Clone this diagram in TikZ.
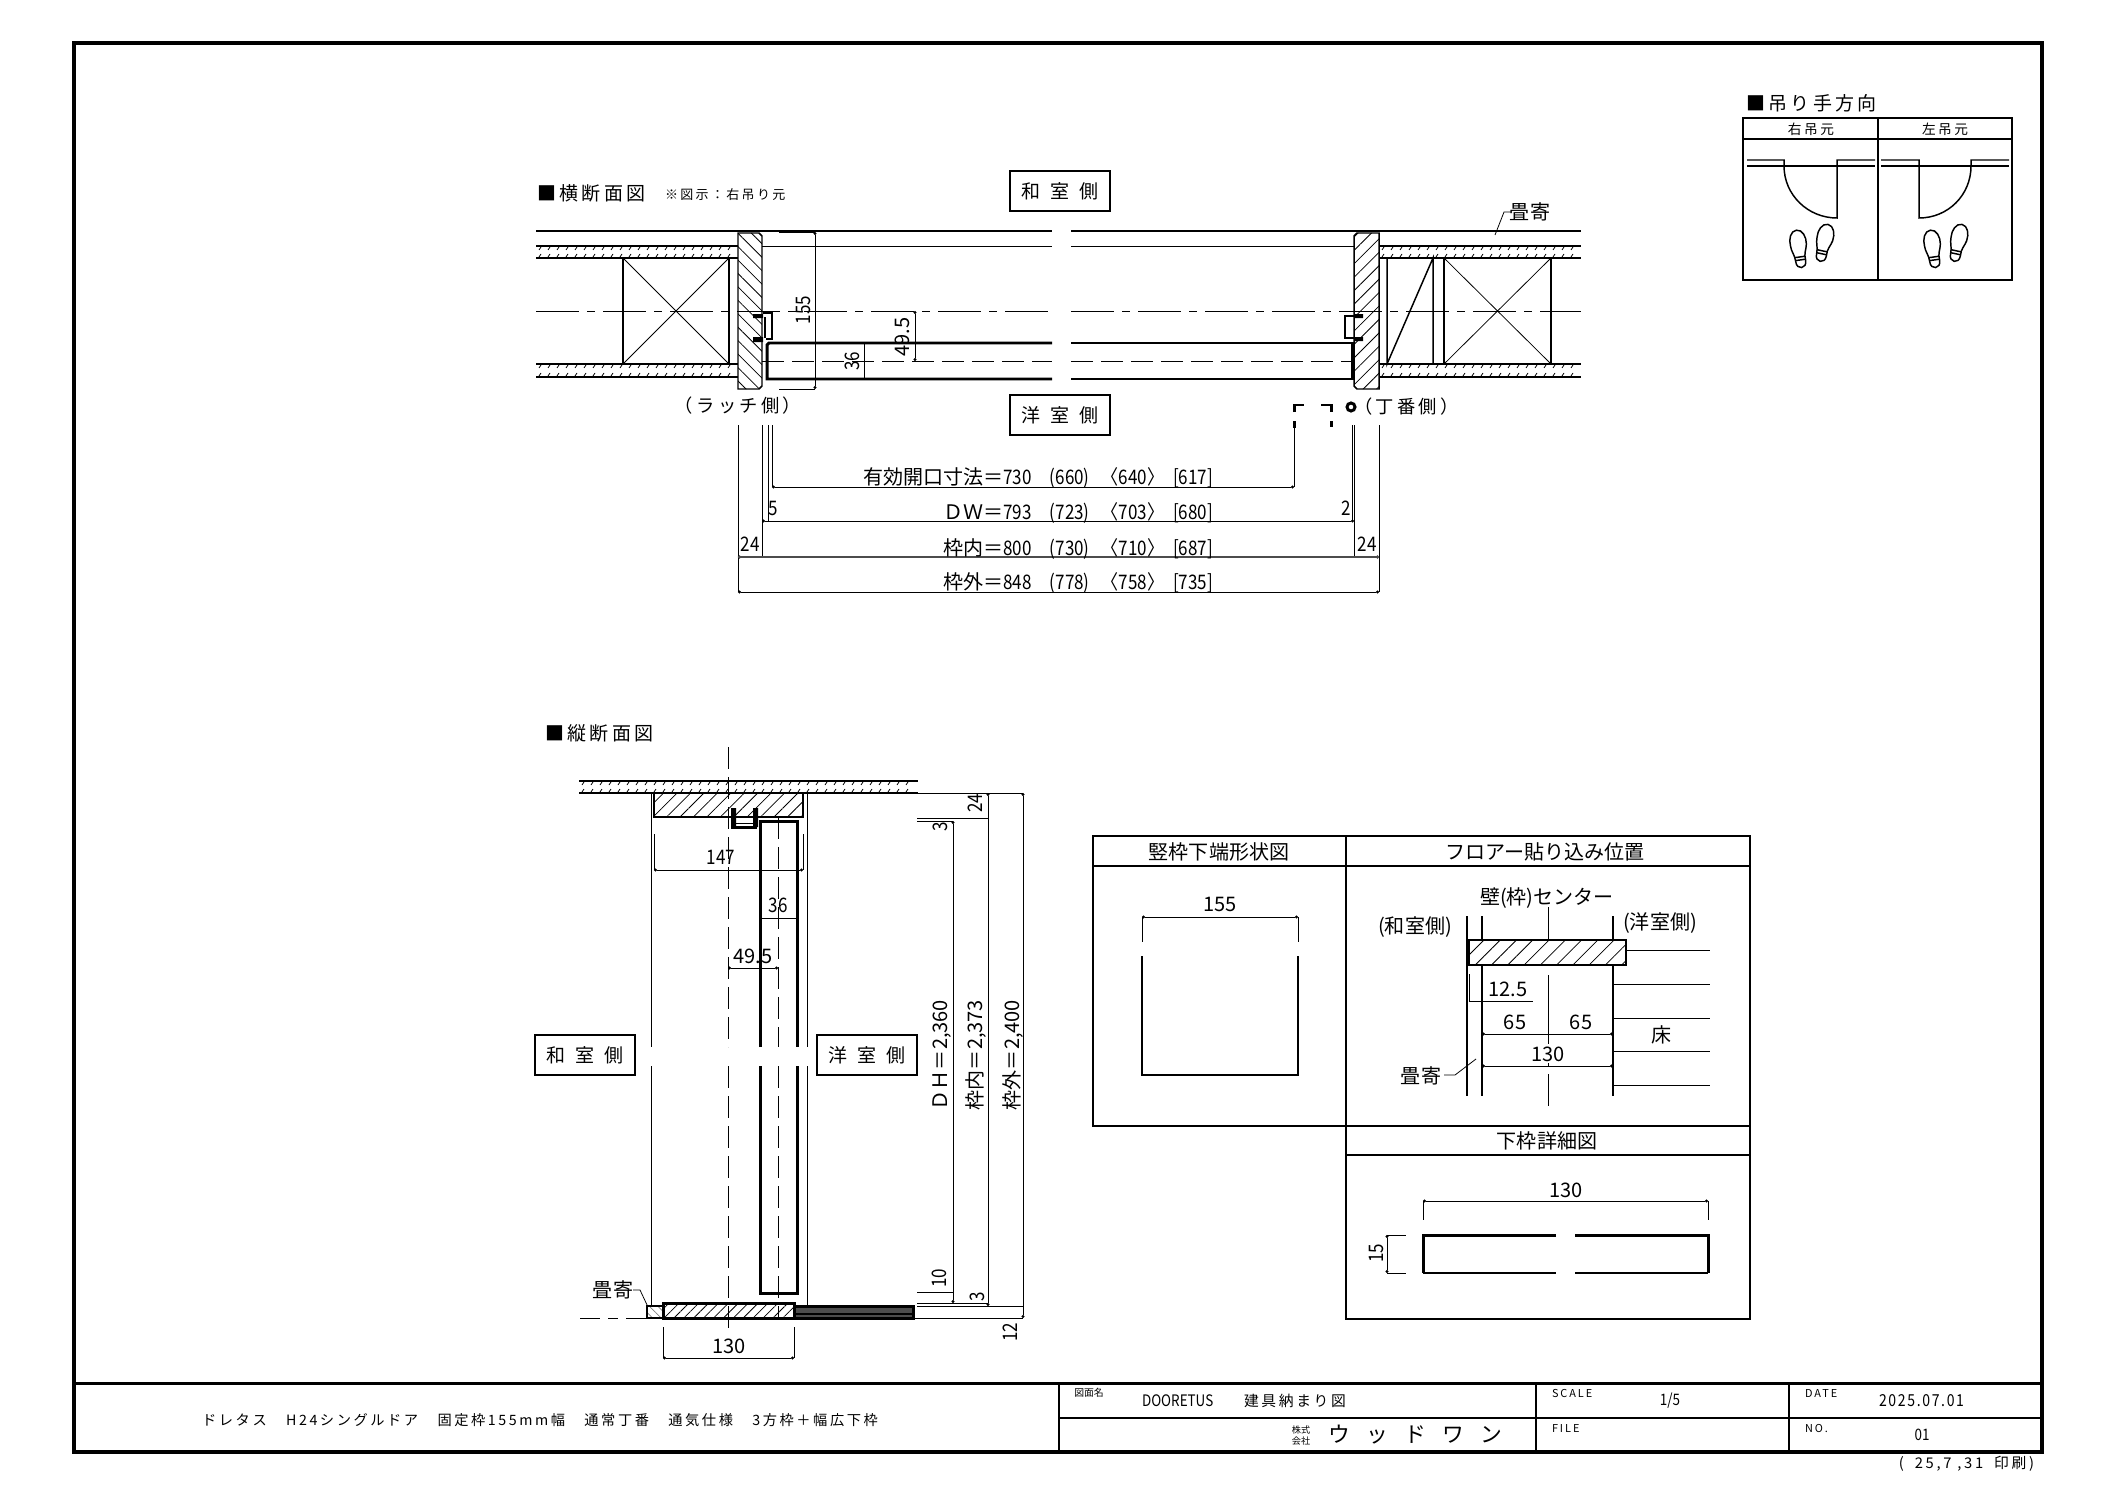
\documentclass[tikz,border=0pt]{standalone}
\usepackage{fontspec}
\usetikzlibrary{patterns.meta,arrows.meta}
\newfontfamily\cad{Noto Sans CJK JP}
\newfontfamily\cads[LetterSpace=18]{Noto Sans CJK JP}
\newfontfamily\cadw[LetterSpace=55]{Noto Sans CJK JP}
\newfontfamily\cadx[LetterSpace=75]{Noto Sans CJK JP}
\newfontfamily\cadn[FakeStretch=0.85]{Noto Sans CJK JP}
\newfontfamily\cadt[FakeStretch=0.85,LetterSpace=10]{Noto Sans CJK JP}
\newcommand{\boardh}[4]{%
  \draw[ln2] (#1,#3) -- (#2,#3);
  \draw[ln2] (#1,#4) -- (#2,#4);
  \pgfmathtruncatemacro{\tickn}{(#2-#1)/9-1}
  \foreach \ti in {0,...,\tickn}{
    \draw[ln1] ({#1+\ti*9+5},{#3+1}) -- ++(-2,3);
    \draw[ln1] ({#1+\ti*9+5},{#4-4}) -- ++(-2,3);
  }
}
\newcommand{\sizes}[5]{#1＝{\cadn #2\hspace{1.8mm}(#3)\hspace{1.2mm}〈#4〉\hspace{.9mm}[#5]}}
\tikzset{
  ln1/.style={line width=.22pt},
  ln2/.style={line width=.42pt},
  ln3/.style={line width=.85pt},
  ln4/.style={line width=1.2pt},
  chainln/.style={line width=.22pt,dash pattern=on 4.3mm off .8mm on .8mm off .8mm},
  dashln/.style={line width=.22pt,dash pattern=on 2.2mm off .8mm},
  dimln/.style={ln1,{Circle[length=.3mm]}-{Circle[length=.3mm]}},
  lab/.style={inner sep=0pt,outer sep=0pt,font=\cad\fontsize{5.7pt}{6.5pt}\selectfont},
  labd/.style={lab,font=\cadn\fontsize{5.7pt}{6.5pt}\selectfont},
  labs/.style={lab,font=\cads\fontsize{5.2pt}{6pt}\selectfont},
  labw/.style={lab,font=\cadw\fontsize{5.4pt}{6pt}\selectfont},
  labn/.style={lab,font=\cadn\fontsize{4.5pt}{5pt}\selectfont},
  tinylab/.style={lab,font=\cads\fontsize{3.1pt}{3.5pt}\selectfont},
  sidebox/.style={labw,draw,ln2,minimum width=10mm,minimum height=4mm},
  hatchl/.style={pattern={Lines[angle=-45,distance=.95mm,line width=.22pt]}},
  hatchr/.style={pattern={Lines[angle=45,distance=.95mm,line width=.22pt]}},
  hatchf/.style={pattern={Lines[angle=45,distance=.7mm,line width=.22pt]}},
  hatchw/.style={pattern={Lines[angle=45,distance=1.15mm,line width=.22pt]}},
  shoe/.pic={
    \draw[ln2] (0,-19) .. controls (6,-19) and (9,-11) .. (8,-4)
      .. controls (7,2) and (4,5) .. (5,12)
      .. controls (5.5,21) and (-5.5,21) .. (-5,12)
      .. controls (-5,5) and (-8,2) .. (-8,-4)
      .. controls (-9,-11) and (-6,-19) .. (0,-19) -- cycle;
    \draw[ln2] (-5,8) -- (5,8) (-5,11) -- (5,11);
  }
}
\begin{document}
\begin{tikzpicture}[x=.1mm,y=-.1mm]
\useasboundingbox (0,0) rectangle (2117,1497);
% sheet
\draw[ln4] (74,43) rectangle (2042,1452);
\draw[ln3] (74,1383) -- (2042,1383);
\draw[ln2] (1059,1418) -- (2042,1418);
\foreach \bx in {1059,1536,1789}{\draw[ln2] (\bx,1383) -- (\bx,1452);}
% hand table
\node[lab,anchor=west,font=\cads\fontsize{5.4pt}{6pt}\selectfont] (handtitle) at (1746,103) {■吊り手方向};
\draw[ln2] (1743,118) rectangle (2012,280);
\draw[ln2] (1743,139) -- (2012,139);
\draw[ln2] (1878,118) -- (1878,280);
\node[labs,font=\cads\fontsize{3.9pt}{4.5pt}\selectfont] (handr) at (1811,129) {右吊元};
\node[labs,font=\cads\fontsize{3.9pt}{4.5pt}\selectfont] (handl) at (1945,129) {左吊元};
\draw[ln2] (1747,160) -- (1784,160) -- (1784,166) .. controls (1784,195) and (1808,218) .. (1837,218) -- (1837,160) -- (1875,160);
\draw[ln2] (1747,166) -- (1875,166);
\draw[ln2] (1881,160) -- (1919,160) -- (1919,218) .. controls (1948,218) and (1971,195) .. (1971,166) -- (1971,160) -- (2009,160);
\draw[ln2] (1881,166) -- (2009,166);
\pic[rotate=8] at (1799,249) {shoe};
\pic[rotate=-12] at (1824,243) {shoe};
\pic[rotate=8] at (1933,249) {shoe};
\pic[rotate=-12] at (1958,243) {shoe};
% horizontal section
\node[labs,anchor=west,font=\cads\fontsize{5.4pt}{6pt}\selectfont] (htitle) at (537,193) {■横断面図};
\node[lab,anchor=west,font=\cads\fontsize{3.7pt}{4pt}\selectfont] (hnote) at (665,195) {※図示：右吊り元};
\node[sidebox] (washitsu) at (1060,191) {和室側};
\node[sidebox] (yoshitsu) at (1060,415) {洋室側};
\draw[ln2] (536,231) -- (1052,231) (1071,231) -- (1581,231);
\draw[ln1] (762,246) -- (1052,246) (1071,246) -- (1354,246);
\boardh{536}{738}{246}{258}
\boardh{536}{738}{364}{377}
\boardh{1379}{1581}{246}{258}
\boardh{1379}{1581}{364}{377}
\draw[ln2] (623,258) rectangle (729,364);
\draw[ln1] (623,258) -- (729,364) (623,364) -- (729,258);
\draw[ln2] (1444,258) rectangle (1551,364);
\draw[ln1] (1444,258) -- (1551,364) (1444,364) -- (1551,258);
\draw[ln2] (1387,258) -- (1387,364) -- (1433,258) -- (1433,364);
\draw[ln2,hatchl] (738,233) -- (759,233) -- (762,236) -- (762,386) -- (759,389) -- (738,389) -- cycle;
\draw[ln2,hatchr] (1379,233) -- (1357,233) -- (1354,236) -- (1354,386) -- (1357,389) -- (1379,389) -- cycle;
\draw[chainln] (536,311) -- (1052,311);
\draw[chainln] (1071,311) -- (1581,311);
\draw[dashln] (762,361) -- (1052,361);
\draw[dashln] (1071,361) -- (1352,361);
% door and strikes
\draw[ln3] (1052,343) -- (769,343) -- (767,345) -- (767,379) -- (1052,379);
\draw[ln3] (1071,343) -- (1352,343) -- (1352,379) -- (1071,379);
\draw[ln2] (763,313) -- (772,313) -- (772,339) -- (766,339);
\draw[ln2] (765,317) -- (765,338);
\fill (753,314) rectangle (763,318) (753,337) rectangle (763,342);
\draw[ln2] (1354,316) -- (1345,316) -- (1345,338) -- (1354,338);
\fill (1354,314) rectangle (1363,318) (1354,337) rectangle (1363,341);
% dimensions in the door
\draw[dimln] (815,232) -- (815,389);
\draw[ln1] (779,232) -- (815,232) (779,389) -- (815,389);
\node[labd,rotate=90] (dimfr) at (803,310) {155};
\draw[ln1] (864,343) -- (864,379);
\node[labd,rotate=90] (dimdt) at (852,361) {36};
\draw[dimln] (915,311) -- (915,361);
\node[lab,rotate=90] (dimdc) at (902,337) {49.5};
\node[labs] (latch) at (738,406) {（ラッチ側）};
\node[labs,anchor=west] (hinge) at (1354,407) {（丁番側）};
\node[lab] (yosea) at (1530,212) {畳寄};
\draw[ln1] (1495,235) -- (1504,212) -- (1512,212);
% hinge side marks
\draw[ln3] (1294,412) -- (1294,405) -- (1304,405);
\draw[ln3] (1321,405) -- (1331,405) -- (1331,412);
\draw[ln3] (1351,407) circle (4);
\draw[ln3] (1294,421) -- (1294,428) (1331,421) -- (1331,427);
% width dimensions
\draw[ln1] (738,425) -- (738,592) (762,425) -- (762,557) (768,425) -- (768,521) (772,425) -- (772,487);
\draw[ln1] (1294,425) -- (1294,487) (1352,425) -- (1352,521) (1354,425) -- (1354,557) (1379,425) -- (1379,592);
\draw[dimln] (772,487) -- (1294,487);
\draw[dimln] (762,521) -- (1354,521);
\draw[dimln,ln2,black!70] (738,557) -- (1379,557);
\draw[dimln] (738,592) -- (1379,592);
\node[lab,anchor=east] (dimopen) at (1213,478) {\sizes{有効開口寸法}{730}{660}{640}{617}};
\node[lab,anchor=east] (dimdw) at (1213,513) {\sizes{ＤＷ}{793}{723}{703}{680}};
\node[lab,anchor=east] (diminner) at (1213,549) {\sizes{枠内}{800}{730}{710}{687}};
\node[lab,anchor=east] (dimouter) at (1213,583) {\sizes{枠外}{848}{778}{758}{735}};
\node[labd] (dimfive) at (773,508) {5};
\node[labd] (dimtwo) at (1346,508) {2};
\node[labd] (dimla) at (750,544) {24};
\node[labd] (dimlb) at (1367,544) {24};
% vertical section
\node[labs,anchor=west,font=\cads\fontsize{5.4pt}{6pt}\selectfont] (vtitle) at (545,733) {■縦断面図};
\boardh{579}{918}{781}{793}
\draw[ln2,hatchr] (654,793) rectangle (803,817);
\draw[ln1] (651,793) -- (651,1047) (651,1066) -- (651,1306);
\draw[ln1] (807,793) -- (807,1047) (807,1066) -- (807,1306);
\draw[dashln] (728,747) -- (728,1047);
\draw[dashln] (728,1066) -- (728,1328);
\draw[dashln] (778,817) -- (778,1047);
\draw[dashln] (778,1066) -- (778,1318);
\fill (731,808) rectangle (736,827) (753,808) rectangle (758,827);
\draw[ln3] (731,827) -- (757,827);
\draw[ln1] (736,823) -- (753,823);
\draw[ln3] (760,1047) -- (760,821) -- (797,821) -- (797,1047);
\draw[ln3] (760,1066) -- (760,1293) -- (797,1293) -- (797,1066);
\draw[dimln] (654,870) -- (803,870);
\draw[ln1] (654,834) -- (654,870) (803,834) -- (803,870);
\node[labd] (dimhead) at (721,857) {147};
\draw[ln1] (760,918) -- (797,918);
\node[labd] (dimdoor) at (778,905) {36};
\draw[dimln] (728,968) -- (778,968);
\node[lab] (dimcen) at (753,956) {49.5};
\node[sidebox] (washitsub) at (585,1055) {和室側};
\node[sidebox] (yoshitsub) at (867,1055) {洋室側};
% height dimensions
\draw[ln1] (918,793) -- (1023,793) (917,818) -- (988,818) (917,821) -- (953,821);
\draw[ln1] (917,1292) -- (953,1292) (917,1303) -- (988,1303) (917,1306) -- (1023,1306) (913,1318) -- (1023,1318);
\draw[dimln] (953,821) -- (953,1303);
\draw[dimln] (988,793) -- (988,1306);
\draw[dimln] (1023,793) -- (1023,1318);
\node[labd,rotate=90] (dimhtop) at (975,803) {24};
\node[labd,rotate=90] (dimhgap) at (940,827) {3};
\node[labd,rotate=90] (dimhlow) at (939,1278) {10};
\node[labd,rotate=90] (dimhsill) at (977,1297) {3};
\node[labd,rotate=90] (dimhbot) at (1010,1332) {12};
\node[lab,rotate=90] (dimdh) at (942,1055) {ＤＨ＝2,360};
\node[lab,rotate=90] (dimin) at (976,1055) {枠内＝2,373};
\node[lab,rotate=90] (dimout) at (1013,1055) {枠外＝2,400};
% sill
\draw[ln3,hatchf] (663,1303) rectangle (794,1318);
\draw[ln2,pattern color=gray,pattern={Lines[angle=-45,distance=.6mm,line width=.2pt]}] (647,1306) rectangle (663,1318);
\draw[ln3,fill=black!70] (794,1306) rectangle (913,1318);
\draw[ln2] (794,1314) -- (913,1314);
\draw[ln1,dash pattern=on 2mm off .8mm on 1mm off .8mm] (580,1318) -- (647,1318);
\node[lab] (yoseb) at (613,1290) {畳寄};
\draw[ln1] (633,1290) -- (640,1290) -- (648,1307);
\draw[dimln] (663,1358) -- (794,1358);
\draw[ln1] (663,1327) -- (663,1358) (794,1327) -- (794,1358);
\node[lab] (dimsill) at (729,1346) {130};
% detail tables
\begin{scope}[yshift=-.1mm]
\draw[ln2] (1093,835) rectangle (1346,1125);
\draw[ln2] (1346,835) rectangle (1750,1125);
\draw[ln2] (1346,1125) rectangle (1750,1318);
\draw[ln2] (1093,865) -- (1750,865);
\draw[ln2] (1346,1154) -- (1750,1154);
\node[lab] (headshape) at (1219,851) {竪枠下端形状図};
\node[lab] (headfloor) at (1545,851) {フロアー貼り込み位置};
\node[lab] (headsill) at (1547,1140) {下枠詳細図};
% jamb shape
\node[lab] (dimjamb) at (1220,903) {155};
\draw[dimln] (1142,916) -- (1298,916);
\draw[ln1] (1142,916) -- (1142,941) (1298,916) -- (1298,941);
\draw[ln2] (1142,955) -- (1142,1074) -- (1298,1074) -- (1298,955);
% floor position
\node[lab] (wallcen) at (1547,897) {壁(枠)センター};
\node[lab] (sidew) at (1415,926) {(和室側)};
\node[lab] (sidey) at (1660,922) {(洋室側)};
\draw[ln2] (1467,915) -- (1467,1095);
\draw[ln2] (1482,915) -- (1482,939) (1482,964) -- (1482,1095);
\draw[ln2] (1613,915) -- (1613,939) (1613,964) -- (1613,1095);
\draw[ln1] (1548,906) -- (1548,938) (1548,974) -- (1548,1043) (1548,1062) -- (1548,1065) (1548,1073) -- (1548,1105);
\draw[ln2,hatchw] (1469,939) rectangle (1626,964);
\foreach \fy/\fx in {949/1626,983/1613,1017/1613,1050/1613,1084/1613}{\draw[ln1] (\fx,\fy) -- (1710,\fy);}
\draw[ln1] (1469,973) -- (1469,1000) -- (1533,1000);
\node[lab] (dimskirt) at (1508,988) {12.5};
\draw[dimln] (1482,1033) -- (1613,1033);
\draw[dimln] (1482,1065) -- (1613,1065);
\node[lab] (dimfa) at (1515,1021) {65};
\node[lab] (dimfb) at (1581,1021) {65};
\node[lab] (dimfc) at (1548,1053) {130};
\node[lab] (floorlab) at (1661,1034) {床};
\node[lab] (yosec) at (1421,1075) {畳寄};
\draw[ln1] (1444,1074) -- (1455,1074) -- (1476,1058);
% sill detail
\node[lab] (dimsa) at (1566,1189) {130};
\draw[dimln] (1423,1200) -- (1708,1200);
\draw[ln1] (1423,1200) -- (1423,1219) (1708,1200) -- (1708,1219);
\draw[ln3] (1556,1234) -- (1423,1234) -- (1423,1272);
\draw[ln3] (1575,1234) -- (1708,1234) -- (1708,1272);
\draw[ln2] (1423,1272) -- (1556,1272) (1575,1272) -- (1708,1272);
\draw[dimln] (1387,1234) -- (1387,1272);
\draw[ln1] (1387,1234) -- (1406,1234) (1387,1272) -- (1406,1272);
\node[labd,rotate=90] (dimsb) at (1376,1252) {15};
\end{scope}
% title block
\node[labs,font=\cads\fontsize{4.05pt}{4.5pt}\selectfont] (product) at (540,1420) {ドレタス　H24シングルドア　固定枠155mm幅　通常丁番　通気仕様　3方枠＋幅広下枠};
\node[lab,font=\cad\fontsize{2.8pt}{3pt}\selectfont] (drawname) at (1089,1393) {図面名};
\node[labn,anchor=west] (drawa) at (1142,1401) {DOORETUS};
\node[labs,anchor=west,font=\cads\fontsize{4.2pt}{4.5pt}\selectfont] (drawb) at (1244,1401) {建具納まり図};
\node[lab,font=\cad\fontsize{2.6pt}{3pt}\selectfont] (comp) at (1301,1430) {株式};
\node[lab,font=\cad\fontsize{2.6pt}{3pt}\selectfont] (compb) at (1301,1441) {会社};
\node[labw,anchor=west,font=\cadx\fontsize{6.2pt}{7pt}\selectfont] (maker) at (1328,1435) {ウッドワン};
\node[tinylab,anchor=west] (scale) at (1552,1393) {SCALE};
\node[labn] (scalev) at (1670,1401) {1/5};
\node[tinylab,anchor=west] (filek) at (1552,1428) {FILE};
\node[tinylab,anchor=west] (datek) at (1805,1393) {DATE};
\node[labn,anchor=west,font=\cadt\fontsize{4.7pt}{5pt}\selectfont] (datev) at (1879,1401) {2025.07.01};
\node[tinylab,anchor=west] (nok) at (1805,1428) {NO.};
\node[labn] (nov) at (1922,1435) {01};
\node[labs,anchor=east,font=\cads\fontsize{4.2pt}{5pt}\selectfont] (printed) at (2034,1464) {(\hspace{.5mm} 25,7 ,31\hspace{.5mm} 印刷)};
\end{tikzpicture}
\end{document}
